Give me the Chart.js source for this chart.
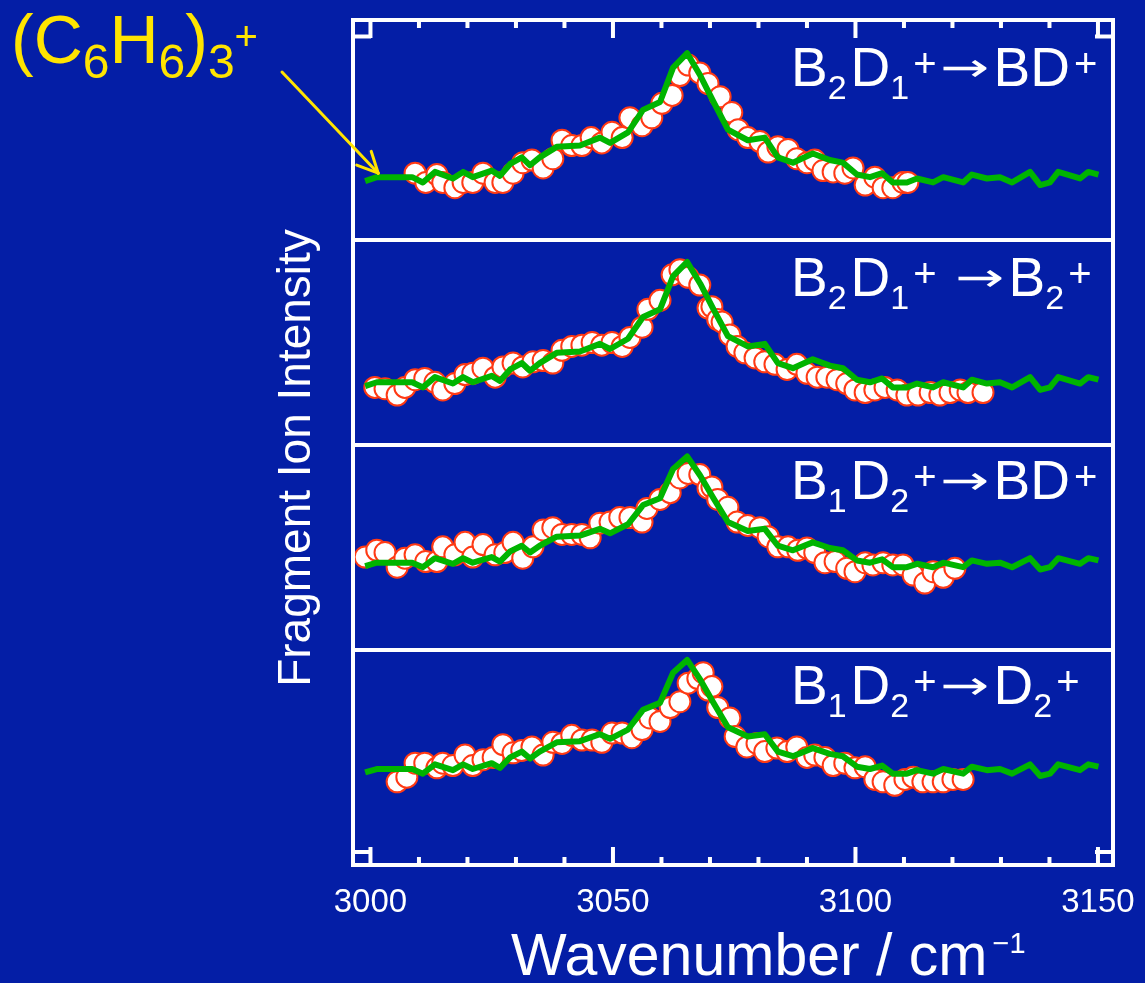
<!DOCTYPE html>
<html>
<head>
<meta charset="utf-8">
<script src="https://cdn.jsdelivr.net/npm/chart.js@4.4.0/dist/chart.umd.min.js"></script>
<style>
    html, body { margin: 0; padding: 0; background: #041ea6; }
    #wrap { width: 1145px; height: 983px; position: relative; }
</style>
</head>
<body>
<div id="wrap"><canvas id="spec_chart"></canvas></div>
<script>
// calculated spectrum (green), same shape in every panel
var calcWave = [2998.9, 3001.3, 3008.6, 3010.8, 3013.3, 3017.0, 3019.1, 3021.1, 3025.0, 3026.7, 3028.8, 3031.2, 3032.9, 3034.9, 3038.4, 3043.2, 3047.3, 3049.4, 3053.1, 3056.2, 3059.7, 3062.4, 3065.3, 3068.0, 3070.6, 3073.7, 3077.8, 3081.3, 3084.0, 3087.1, 3091.2, 3094.7, 3097.4, 3100.3, 3103.0, 3105.5, 3107.7, 3110.6, 3112.7, 3116.0, 3118.1, 3122.2, 3124.0, 3127.1, 3129.8, 3132.3, 3136.0, 3138.1, 3140.1, 3141.8, 3146.3, 3148.0, 3150.1];
var calcInt = [0.03, 0.06, 0.06, 0.02, 0.10, 0.05, 0.10, 0.06, 0.11, 0.07, 0.16, 0.21, 0.15, 0.21, 0.29, 0.30, 0.36, 0.32, 0.40, 0.57, 0.63, 0.89, 1.00, 0.83, 0.64, 0.42, 0.34, 0.36, 0.21, 0.17, 0.24, 0.19, 0.17, 0.08, 0.06, 0.09, 0.02, 0.02, 0.05, 0.02, 0.06, 0.02, 0.08, 0.05, 0.06, 0.02, 0.10, 0.00, 0.02, 0.10, 0.05, 0.10, 0.08];

// measured fragment spectra (circles)
var expWave1 = [3009.2, 3011.4, 3013.7, 3014.9, 3017.4, 3019.1, 3021.1, 3023.2, 3025.7, 3027.3, 3029.4, 3031.4, 3033.3, 3035.6, 3037.6, 3039.5, 3041.5, 3043.6, 3045.5, 3047.7, 3049.8, 3051.9, 3053.5, 3056.0, 3058.0, 3060.1, 3062.2, 3063.8, 3065.5, 3067.9, 3069.6, 3072.1, 3074.5, 3075.8, 3077.8, 3080.3, 3082.0, 3084.0, 3086.1, 3087.9, 3090.0, 3091.6, 3093.3, 3095.4, 3097.8, 3099.5, 3102.0, 3104.0, 3105.7, 3107.7, 3109.8, 3110.8];
var expInt1 = [0.09, 0.02, 0.08, 0.02, -0.02, 0.02, 0.02, 0.09, 0.02, 0.02, 0.09, 0.17, 0.19, 0.13, 0.20, 0.34, 0.30, 0.30, 0.36, 0.32, 0.40, 0.36, 0.51, 0.45, 0.51, 0.62, 0.68, 0.83, 0.91, 0.85, 0.77, 0.67, 0.55, 0.42, 0.36, 0.33, 0.25, 0.29, 0.27, 0.20, 0.17, 0.19, 0.11, 0.10, 0.09, 0.13, 0.00, 0.06, -0.02, -0.02, 0.02, 0.02];

var expWave2 = [3000.9, 3003.0, 3005.5, 3007.1, 3009.2, 3011.2, 3013.3, 3014.9, 3017.4, 3019.5, 3021.1, 3023.2, 3025.7, 3027.3, 3029.4, 3031.4, 3033.5, 3035.6, 3037.6, 3039.5, 3041.5, 3043.6, 3045.7, 3047.7, 3049.8, 3051.9, 3053.5, 3056.0, 3057.2, 3059.7, 3062.2, 3063.8, 3065.5, 3067.9, 3069.6, 3070.4, 3071.6, 3072.5, 3074.1, 3075.6, 3077.2, 3079.3, 3081.3, 3083.4, 3085.9, 3087.9, 3090.0, 3092.1, 3094.1, 3096.2, 3098.2, 3099.9, 3102.0, 3104.0, 3106.1, 3108.6, 3110.6, 3112.9, 3115.4, 3117.4, 3119.5, 3121.6, 3123.2, 3126.3];
var expInt2 = [0.02, 0.01, -0.04, 0.02, 0.08, 0.09, 0.06, 0.00, 0.05, 0.12, 0.13, 0.17, 0.10, 0.18, 0.21, 0.18, 0.22, 0.23, 0.21, 0.31, 0.34, 0.35, 0.37, 0.35, 0.37, 0.34, 0.41, 0.49, 0.63, 0.70, 0.90, 0.94, 0.88, 0.82, 0.64, 0.65, 0.55, 0.53, 0.43, 0.34, 0.29, 0.25, 0.22, 0.20, 0.16, 0.20, 0.13, 0.10, 0.10, 0.08, 0.05, 0.00, -0.02, 0.00, 0.02, 0.00, -0.04, -0.04, -0.02, -0.04, -0.02, 0.00, -0.02, -0.02];

var expWave3 = [2998.9, 3001.3, 3003.0, 3005.5, 3007.1, 3009.2, 3011.4, 3013.7, 3014.9, 3017.4, 3019.5, 3021.1, 3023.2, 3025.7, 3027.7, 3029.4, 3031.4, 3033.5, 3035.6, 3037.6, 3039.5, 3041.5, 3043.6, 3045.3, 3047.3, 3049.4, 3051.4, 3053.5, 3056.0, 3057.0, 3059.7, 3061.8, 3063.8, 3065.5, 3067.9, 3069.6, 3070.4, 3071.6, 3073.7, 3075.6, 3077.8, 3080.3, 3082.0, 3084.0, 3086.1, 3088.1, 3090.0, 3091.6, 3093.7, 3095.8, 3098.2, 3099.9, 3102.0, 3103.6, 3105.7, 3107.7, 3109.8, 3111.9, 3114.3, 3116.0, 3118.1, 3120.5];
var expInt3 = [0.11, 0.17, 0.15, 0.02, 0.10, 0.13, 0.07, 0.07, 0.20, 0.13, 0.24, 0.11, 0.22, 0.13, 0.15, 0.24, 0.10, 0.20, 0.35, 0.37, 0.31, 0.31, 0.31, 0.28, 0.41, 0.42, 0.46, 0.46, 0.42, 0.54, 0.62, 0.68, 0.81, 0.85, 0.84, 0.72, 0.73, 0.62, 0.55, 0.42, 0.39, 0.37, 0.29, 0.20, 0.20, 0.17, 0.19, 0.15, 0.06, 0.07, 0.01, -0.02, 0.06, 0.04, 0.06, 0.04, 0.04, -0.05, -0.12, -0.02, -0.07, 0.01];

var expWave4 = [3005.5, 3007.5, 3009.2, 3011.2, 3013.7, 3014.9, 3017.0, 3019.5, 3021.1, 3023.2, 3025.3, 3027.3, 3029.4, 3031.2, 3033.3, 3035.6, 3037.6, 3039.5, 3041.5, 3043.6, 3045.7, 3047.7, 3049.8, 3051.9, 3053.9, 3056.0, 3057.6, 3059.7, 3061.8, 3063.8, 3065.5, 3067.5, 3068.6, 3069.6, 3070.4, 3071.6, 3074.1, 3075.2, 3077.6, 3079.7, 3081.3, 3083.8, 3085.9, 3087.9, 3090.0, 3091.6, 3093.7, 3095.4, 3097.8, 3099.9, 3102.0, 3104.0, 3105.7, 3108.1, 3110.2, 3111.9, 3113.9, 3116.0, 3118.1, 3120.1, 3122.2];
var expInt4 = [-0.05, -0.01, 0.11, 0.11, 0.07, 0.11, 0.09, 0.18, 0.09, 0.14, 0.16, 0.27, 0.20, 0.22, 0.25, 0.18, 0.29, 0.28, 0.35, 0.31, 0.31, 0.29, 0.37, 0.37, 0.33, 0.40, 0.50, 0.47, 0.59, 0.64, 0.80, 0.84, 0.89, 0.74, 0.77, 0.59, 0.50, 0.34, 0.25, 0.28, 0.21, 0.24, 0.21, 0.25, 0.16, 0.18, 0.16, 0.09, 0.11, 0.07, 0.08, -0.03, -0.05, -0.08, -0.03, -0.01, -0.05, -0.05, -0.05, -0.03, -0.03];

// stacked panels: offset + gain of each trace on the shared y axis
var panelBase = [3.299, 2.305, 1.434, 0.432];
var panelGain = [0.640, 0.621, 0.548, 0.563];
var panelEdges = [1.043, 2.038, 3.033];
var xTickLabels = [3000, 3050, 3100, 3150];

// [text, style, extra space before]
var panelLabels = [
    [['B', 'n'], ['2', 'sub'], ['D', 'n'], ['1', 'sub'], ['+', 'sup'], ['\u2192', 'arr'], ['BD', 'n'], ['+', 'sup', 4]],
    [['B', 'n'], ['2', 'sub'], ['D', 'n'], ['1', 'sub'], ['+', 'sup'], ['\u2192', 'arr', 15], ['B', 'n'], ['2', 'sub'], ['+', 'sup']],
    [['B', 'n'], ['1', 'sub'], ['D', 'n'], ['2', 'sub'], ['+', 'sup'], ['\u2192', 'arr'], ['BD', 'n'], ['+', 'sup', 4]],
    [['B', 'n'], ['1', 'sub'], ['D', 'n'], ['2', 'sub'], ['+', 'sup'], ['\u2192', 'arr'], ['D', 'n'], ['2', 'sub'], ['+', 'sup']]
];
var labelY = [3.78, 2.761, 1.776, 0.782];
var clusterLabel = [['(', 'n'], ['C', 'n'], ['6', 'sub'], ['H', 'n'], ['6', 'sub'], [')', 'n'], ['3', 'sub'], ['+', 'sup']];

var FONT = '"Liberation Sans", Arial, sans-serif';
var ARROW_FONT = '"DejaVu Sans", sans-serif';
var BG = '#041ea6';
var GREEN = '#00b400';
var RED = '#ff3a14';
var YELLOW = '#ffe400';

function toPoints(waves, ints, p) {
    return waves.map(function (w, i) {
        return { x: w, y: panelBase[p] + ints[i] * panelGain[p] };
    });
}

function richText(ctx, x, y, segs, color, sizes) {
    ctx.fillStyle = color;
    ctx.textAlign = 'left';
    ctx.textBaseline = 'alphabetic';
    segs.forEach(function (s) {
        var st = sizes[s[1]];
        x += (s[2] || 0) + (st.lead || 0);
        ctx.font = st.size + 'px ' + (st.font || FONT);
        var mw = ctx.measureText(s[0]).width;
        if (st.w) {
            // stretch glyph to a fixed width (long arrow)
            ctx.save();
            ctx.translate(x, y + st.dy);
            ctx.scale(st.w / mw, 1);
            ctx.fillText(s[0], 0, 0);
            ctx.restore();
            mw = st.w;
        } else {
            ctx.fillText(s[0], x, y + st.dy);
        }
        x += mw + (st.pad || 0);
    });
}

function line(ctx, x1, y1, x2, y2) {
    ctx.beginPath();
    ctx.moveTo(x1, y1);
    ctx.lineTo(x2, y2);
    ctx.stroke();
}

var expSets = [[expWave1, expInt1], [expWave2, expInt2], [expWave3, expInt3], [expWave4, expInt4]];
var datasets = [];
// green lines first so they sit on top of the circles
for (var p = 0; p < 4; p++) {
    datasets.push({
        data: toPoints(calcWave, calcInt, p),
        showLine: true,
        borderColor: GREEN,
        borderWidth: 6,
        borderJoinStyle: 'round',
        pointRadius: 0,
        fill: false
    });
}
for (var q = 0; q < 4; q++) {
    datasets.push({
        data: toPoints(expSets[q][0], expSets[q][1], q),
        showLine: false,
        pointRadius: 10.5,
        borderWidth: 2,
        backgroundColor: '#ffffff',
        borderColor: RED
    });
}

var decorPlugin = {
    id: 'decor',
    beforeDraw: function (chart) {
        var ctx = chart.ctx;
        ctx.save();
        ctx.fillStyle = BG;
        ctx.fillRect(0, 0, chart.width, chart.height);
        ctx.restore();
    },
    afterDraw: function (chart) {
        var ctx = chart.ctx;
        var a = chart.chartArea;
        var xs = chart.scales.x;
        var ys = chart.scales.y;
        ctx.save();
        ctx.strokeStyle = '#ffffff';
        ctx.lineWidth = 4;
        ctx.strokeRect(a.left, a.top, a.right - a.left, a.bottom - a.top);

        // inward ticks top and bottom
        for (var v = 3000; v <= 3150; v += 10) {
            var px = xs.getPixelForValue(v);
            var len = (v % 50 === 0) ? 18 : 8;
            line(ctx, px, a.top, px, a.top + len);
            line(ctx, px, a.bottom, px, a.bottom - len);
        }
        [0.063, 4.02].forEach(function (yv) {
            var py = ys.getPixelForValue(yv);
            line(ctx, a.left, py, a.left + 18, py);
            line(ctx, a.right, py, a.right - 18, py);
        });

        // panel labels
        var lblSizes = {
            n: { size: 55, dy: 0 },
            sub: { size: 34, dy: 13, pad: 4 },
            sup: { size: 40, dy: -9 },
            arr: { size: 40, dy: -5, font: ARROW_FONT, w: 49, lead: 4, pad: 4 }
        };
        panelLabels.forEach(function (segs, i) {
            richText(ctx, xs.getPixelForValue(3086.7), ys.getPixelForValue(labelY[i]), segs, '#ffffff', lblSizes);
        });

        // axis titles
        ctx.save();
        ctx.translate(297, 458);
        ctx.rotate(-Math.PI / 2);
        ctx.fillStyle = '#ffffff';
        ctx.font = '46px ' + FONT;
        ctx.textAlign = 'center';
        ctx.textBaseline = 'middle';
        ctx.fillText('Fragment Ion Intensity', 0, 0);
        ctx.restore();

        richText(ctx, 511, 975, [['Wavenumber / cm', 'n'], ['\u22121', 'sup']], '#ffffff',
            { n: { size: 59, dy: 0 }, sup: { size: 29, dy: -22, lead: 5 } });

        // (C6H6)3+ annotation with arrow to the calculated trace
        richText(ctx, 11, 63, clusterLabel, YELLOW,
            { n: { size: 68, dy: 0 }, sub: { size: 48, dy: 15 }, sup: { size: 40, dy: -13 } });
        var tx = xs.getPixelForValue(3001.6);
        var ty = ys.getPixelForValue(panelBase[0] + 0.09 * panelGain[0]);
        var sx = 282, sy = 72;
        var ang = Math.atan2(ty - sy, tx - sx);
        ctx.strokeStyle = YELLOW;
        ctx.lineWidth = 3;
        ctx.lineCap = 'round';
        line(ctx, sx, sy, tx, ty);
        [-0.45, 0.45].forEach(function (d) {
            line(ctx, tx, ty, tx - 23 * Math.cos(ang + d), ty - 23 * Math.sin(ang + d));
        });
        ctx.restore();
    }
};

var specChart = new Chart(document.getElementById('spec_chart').getContext('2d'), {
    type: 'scatter',
    data: { datasets: datasets },
    options: {
        animation: false,
        responsive: true,
        maintainAspectRatio: false,
        layout: { padding: { left: 353, right: 32, top: 20, bottom: 48 } },
        plugins: { legend: { display: false }, tooltip: { enabled: false } },
        scales: {
            x: {
                type: 'linear',
                min: 2996.4,
                max: 3153.1,
                afterBuildTicks: function (s) {
                    s.ticks = xTickLabels.map(function (v) { return { value: v }; });
                },
                afterFit: function (s) {
                    s.height = 70;
                    s.paddingLeft = 0;
                    s.paddingRight = 0;
                },
                grid: { display: false },
                border: { display: false },
                ticks: {
                    color: '#ffffff',
                    font: { family: FONT, size: 33 },
                    padding: 10,
                    maxRotation: 0,
                    callback: function (v) { return String(v); }
                }
            },
            y: {
                type: 'linear',
                min: 0,
                max: 4.1,
                afterBuildTicks: function (s) {
                    s.ticks = panelEdges.map(function (v) { return { value: v }; });
                },
                afterFit: function (s) { s.width = 0; },
                ticks: { display: false },
                grid: { color: '#ffffff', lineWidth: 4, drawTicks: false },
                border: { display: false }
            }
        }
    },
    plugins: [decorPlugin]
});
</script>
</body>
</html>
